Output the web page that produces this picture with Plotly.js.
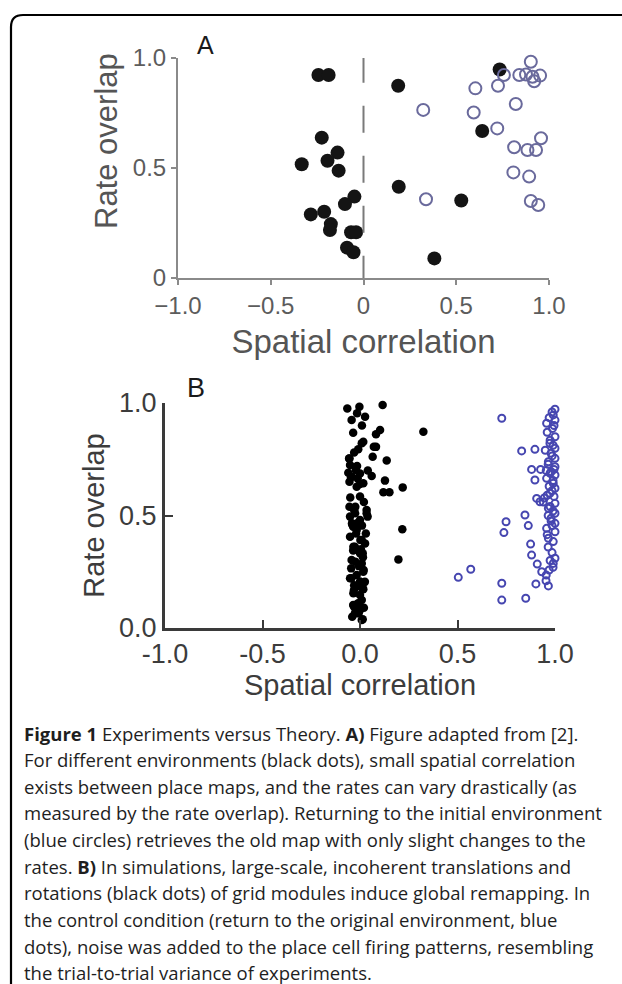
<!DOCTYPE html>
<html>
<head>
<meta charset="utf-8">
<script src="https://cdn.plot.ly/plotly-3.0.1.min.js"></script>
<style>
html,body{margin:0;padding:0;background:#fff;}
#chart{width:622px;height:984px;}
</style>
</head>
<body>
<div id="chart"></div>
<script>
// ---------- Panel A (experiments) ----------
const aDiffX = [-0.243,-0.188,0.187,0.734,0.640,-0.225,-0.140,-0.194,-0.333,-0.134,0.190,0.527,-0.049,-0.100,-0.212,-0.284,-0.176,-0.181,-0.067,-0.040,-0.089,-0.054,0.382];
const aDiffY = [0.923,0.923,0.874,0.948,0.668,0.638,0.570,0.533,0.517,0.488,0.415,0.352,0.370,0.336,0.301,0.289,0.245,0.218,0.208,0.208,0.138,0.117,0.089];
const aSameX = [0.322,0.337,0.603,0.594,0.725,0.757,0.721,0.821,0.902,0.840,0.876,0.911,0.952,0.920,0.812,0.884,0.930,0.957,0.808,0.893,0.902,0.942];
const aSameY = [0.764,0.358,0.862,0.752,0.874,0.923,0.680,0.791,0.983,0.923,0.925,0.915,0.920,0.894,0.594,0.582,0.582,0.635,0.480,0.461,0.350,0.332];

// ---------- Panel B (simulations) ----------
const bRemapX = [-0.065,-0.003,0.026,0.116,-0.043,-0.035,0.082,0.103,0.325,0.009,-0.009,0.082,0.065,0.137,-0.054,-0.051,-0.021,0.000,-0.043,0.060,-0.054,0.017,-0.017,0.128,0.219,0.120,0.151,0.000,-0.054,-0.030,0.039,-0.051,0.000,-0.035,-0.017,-0.051,0.009,0.026,-0.026,0.000,-0.043,0.009,0.017,-0.017,-0.051,0.000,0.017,-0.031,0.000,0.009,-0.035,0.000,-0.026,0.009,0.217,0.197,-0.015,0.017,-0.046,-0.012,-0.024,0.034,-0.041,-0.015,0.002,-0.034,0.014,-0.024,0.019,-0.044,0.014,-0.034,-0.031,-0.007,0.014,0.034,-0.056,0.071,
  -0.040,-0.010,0.020,-0.030,0.000,0.025,-0.045,-0.005,0.015,-0.035,0.005,-0.020,0.030,-0.040,0.010,-0.025,0.020,-0.050,0.000,-0.015,0.040,-0.060,-0.030,0.010];
const bRemapY = [0.976,0.983,0.939,0.991,0.924,0.868,0.861,0.880,0.872,0.821,0.794,0.805,0.761,0.744,0.753,0.724,0.702,0.687,0.673,0.676,0.650,0.643,0.628,0.655,0.625,0.603,0.603,0.584,0.539,0.524,0.495,0.495,0.480,0.450,0.436,0.406,0.391,0.376,0.361,0.332,0.302,0.287,0.250,0.236,0.221,0.207,0.172,0.169,0.147,0.124,0.102,0.080,0.065,0.036,0.439,0.305,0.954,0.828,0.670,0.665,0.539,0.524,0.465,0.465,0.391,0.361,0.332,0.295,0.258,0.221,0.176,0.154,0.095,0.065,0.039,0.510,0.753,0.806,
  0.050,0.110,0.090,0.190,0.185,0.205,0.265,0.275,0.315,0.345,0.350,0.420,0.420,0.460,0.455,0.510,0.560,0.580,0.640,0.720,0.700,0.690,0.780,0.900];
const bReturnX = [0.727,0.829,0.897,0.880,0.926,0.897,0.846,0.749,0.738,0.863,0.875,0.880,0.909,0.932,0.504,0.568,0.727,0.727,0.850,0.902,0.954,0.966,1.000,0.991,1.000,0.957,0.987,1.000,0.974,1.000,0.980,1.000,0.966,1.000,0.980,1.000,0.957,0.991,1.000,0.974,0.906,0.923,1.000,0.966,1.000,0.980,1.000,0.957,1.000,0.966,0.991,1.000,0.991,0.970,
  0.985,0.970,0.995,0.960,0.975,0.990,0.950,0.985,0.965,0.995,0.975,0.955,0.990,0.970,0.985,0.960,0.995,0.945,0.975,0.990,0.965,0.980,0.985,0.940,0.960,0.975,0.990,0.955,0.985,0.965];
const bReturnY = [0.932,0.787,0.794,0.705,0.705,0.658,0.502,0.472,0.424,0.455,0.373,0.324,0.284,0.250,0.225,0.261,0.199,0.124,0.132,0.196,0.210,0.187,0.972,0.947,0.924,0.910,0.887,0.850,0.821,0.799,0.777,0.754,0.739,0.717,0.695,0.680,0.665,0.643,0.621,0.599,0.576,0.561,0.554,0.532,0.510,0.488,0.465,0.443,0.428,0.399,0.384,0.310,0.287,0.258,
  0.960,0.935,0.900,0.870,0.835,0.812,0.790,0.765,0.728,0.705,0.688,0.700,0.655,0.630,0.610,0.590,0.585,0.578,0.540,0.520,0.500,0.475,0.455,0.560,0.415,0.300,0.270,0.235,0.335,0.360];

// ---------- Ticks ----------
const aXTickVals = [-1,-0.5,0,0.5,1];
const aXTickText = ['\u22121.0','\u22120.5','0','0.5','1.0'];
const aYTickVals = [0,0.5,1];
const aYTickText = ['0','0.5','1.0'];
const bXTickVals = [-1,-0.5,0,0.5,1];
const bXTickText = ['-1.0','-0.5','0.0','0.5','1.0'];
const bYTickVals = [0,0.5,1];
const bYTickText = ['0.0','0.5','1.0'];

// ---------- Caption ----------
const captionLines = [
 '<b>Figure 1</b> Experiments versus Theory. <b>A)</b> Figure adapted from [2].',
 'For different environments (black dots), small spatial correlation',
 'exists between place maps, and the rates can vary drastically (as',
 'measured by the rate overlap). Returning to the initial environment',
 '(blue circles) retrieves the old map with only slight changes to the',
 'rates. <b>B)</b> In simulations, large-scale, incoherent translations and',
 'rotations (black dots) of grid modules induce global remapping. In',
 'the control condition (return to the original environment, blue',
 'dots), noise was added to the place cell firing patterns, resembling',
 'the trial-to-trial variance of experiments.'
];

const W = 622, H = 984;
const px = v => v / W;
const py = v => 1 - v / H;

const traces = [
  {x:aDiffX, y:aDiffY, xaxis:'x', yaxis:'y', type:'scatter', mode:'markers', cliponaxis:false,
   marker:{size:14, color:'#141414', line:{width:0}}, name:'different environments'},
  {x:aSameX, y:aSameY, xaxis:'x', yaxis:'y', type:'scatter', mode:'markers', cliponaxis:false,
   marker:{size:12, symbol:'circle-open', color:'#6a6a9c', line:{width:2}}, name:'return'},
  {x:bRemapX, y:bRemapY, xaxis:'x2', yaxis:'y2', type:'scatter', mode:'markers', cliponaxis:false,
   marker:{size:8.5, color:'#000000', line:{width:0}}, name:'remapping'},
  {x:bReturnX, y:bReturnY, xaxis:'x2', yaxis:'y2', type:'scatter', mode:'markers', cliponaxis:false,
   marker:{size:7, symbol:'circle-open', color:'#4646b0', line:{width:2}}, name:'control'}
];

const fontFam = 'Liberation Sans, Arial, Helvetica, sans-serif';
const axA = {showgrid:false, zeroline:false, showline:true, linecolor:'#8a8a8a', linewidth:2,
  ticks:'outside', ticklen:5, tickwidth:2, tickcolor:'#8a8a8a', fixedrange:true};
const axB = {showgrid:false, zeroline:false, showline:true, linecolor:'#3a3a3a', linewidth:3,
  ticks:'inside', ticklen:8, tickwidth:2, tickcolor:'#3a3a3a', fixedrange:true};

const annotations = [
  {text:'A', xref:'paper', yref:'paper', x:px(205), y:py(45), showarrow:false, xanchor:'center', yanchor:'middle',
   font:{family:fontFam, size:25, color:'#1a1a1a'}},
  {text:'B', xref:'paper', yref:'paper', x:px(196), y:py(388), showarrow:false, xanchor:'center', yanchor:'middle',
   font:{family:fontFam, size:27, color:'#1a1a1a'}},
  {text:'Rate overlap', xref:'paper', yref:'paper', x:px(106), y:py(141), showarrow:false, textangle:-90,
   xanchor:'center', yanchor:'middle', font:{family:fontFam, size:31, color:'#555'}}
];
captionLines.forEach((t,i) => {
  annotations.push({text:t, xref:'paper', yref:'paper', x:px(22), y:py(733 + 26.65*i), showarrow:false,
    xanchor:'left', yanchor:'middle', align:'left',
    font:{family:'Open Sans, Noto Sans, sans-serif', size:18.5, color:'#1e1e1e'}});
});

const layout = {
  width:W, height:H, margin:{l:0,r:0,t:0,b:0}, showlegend:false,
  paper_bgcolor:'#ffffff', plot_bgcolor:'rgba(0,0,0,0)',
  font:{family:fontFam},
  xaxis:Object.assign({}, axA, {domain:[px(178), px(549)], range:[-1,1], anchor:'y',
    tickvals:aXTickVals, ticktext:aXTickText, tickfont:{size:24, color:'#5c5c5c'},
    title:{text:'Spatial correlation', font:{size:33, color:'#555'}, standoff:12}}),
  yaxis:Object.assign({}, axA, {domain:[py(278), py(58)], range:[0,1], anchor:'x',
    tickvals:aYTickVals, ticktext:aYTickText, tickfont:{size:24, color:'#5c5c5c'}}),
  xaxis2:Object.assign({}, axB, {domain:[px(165), px(555)], range:[-1,1], anchor:'y2',
    tickvals:bXTickVals, ticktext:bXTickText, tickfont:{size:27, color:'#3c3c3c'},
    title:{text:'Spatial correlation', font:{size:29, color:'#3c3c3c'}, standoff:5}}),
  yaxis2:Object.assign({}, axB, {domain:[py(628), py(403)], range:[0,1], anchor:'x2',
    tickvals:bYTickVals, ticktext:bYTickText, tickfont:{size:27, color:'#3c3c3c'},
    title:{text:'Rate overlap', font:{size:29, color:'#3c3c3c'}, standoff:6}}),
  shapes:[
    {type:'line', xref:'x', yref:'y', x0:0, x1:0, y0:1.01, y1:0,
     line:{color:'#7a7a7a', width:2, dash:'27px,23px'}},
    {type:'path', xref:'paper', yref:'paper',
     path:`M ${px(11)},${py(990)} L ${px(11)},${py(27)} Q ${px(11)},${py(15)} ${px(23)},${py(15)} L ${px(630)},${py(15)}`,
     line:{color:'#000', width:2.2}}
  ],
  annotations:annotations
};

Plotly.newPlot('chart', traces, layout, {displayModeBar:false, staticPlot:true});
</script>
</body>
</html>
